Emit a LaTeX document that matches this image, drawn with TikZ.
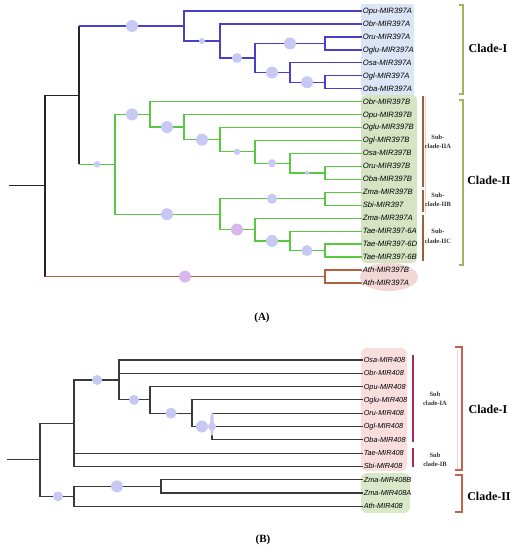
\documentclass[tikz,border=0pt]{standalone}
\usepackage{fontspec}
\setmainfont{Liberation Serif}
\newfontfamily\labfont{Liberation Sans}
\definecolor{blueline}{HTML}{4840C8}
\definecolor{greenline}{HTML}{58C840}
\definecolor{athline}{HTML}{B0603C}
\definecolor{bubcol}{HTML}{C8C8F5}
\definecolor{bubpink}{HTML}{D8B8EC}
\definecolor{bluebox}{HTML}{DBE5F5}
\definecolor{greenbox}{HTML}{D6E4C4}
\definecolor{pinkell}{HTML}{F3D6D6}
\definecolor{pinkbox}{HTML}{F9DEDE}
\definecolor{greenboxb}{HTML}{D9E8C8}
\definecolor{olive}{HTML}{9CB85A}
\definecolor{subbrown}{HTML}{9A6232}
\definecolor{bbrack}{HTML}{C4624E}
\definecolor{submag}{HTML}{A02A64}
\definecolor{treegray}{HTML}{3A3A3A}
\definecolor{faintpink}{HTML}{F6CCDC}
\begin{document}
\begin{tikzpicture}[x=1pt,y=-1pt,
  lf/.style={anchor=west,inner xsep=0.6pt,inner ysep=0pt,text height=5.6pt,text depth=0.8pt,
    font=\labfont\itshape\fontsize{7.7}{8}\selectfont},
  lfb/.style={lf,font=\labfont\itshape\fontsize{7.3}{8}\selectfont},
  blk/.style={draw=black!85,line width=1.1pt},
  bl/.style={draw=blueline,line width=1.3pt},
  gr/.style={draw=greenline,line width=1.3pt},
  ath/.style={draw=athline,line width=1.3pt},
  tg/.style={draw=treegray,line width=1.1pt},
  bub/.style={fill=bubcol},
  clade/.style={font=\fontsize{12}{14}\selectfont\bfseries},
  sublab/.style={align=center,inner sep=0pt,font=\fontsize{6.5}{9.5}\selectfont\bfseries,text=black!80},
  capt/.style={font=\fontsize{11}{13}\selectfont\bfseries}
]
\useasboundingbox (0,0) rectangle (514,550);
\fill[white] (0,0) rectangle (514,550);

% ---------- label backgrounds (A)
\fill[bluebox] (361,4) rectangle (414,95);
\fill[greenbox,rounded corners=5] (361,95) rectangle (417,263);
\fill[pinkell] (389,277) ellipse[x radius=29,y radius=14];

% ---------- label backgrounds (B)
\fill[pinkbox,rounded corners=6] (361,348) rectangle (407,471);
\fill[greenboxb,rounded corners=6] (361,473) rectangle (410,513);

% ---------- leaves (A)
\foreach \t [count=\i from 0] in {Opu-MIR397A,Obr-MIR397A,Oru-MIR397A,Oglu-MIR397A,Osa-MIR397A,Ogl-MIR397A,Oba-MIR397A,Obr-MIR397B,Opu-MIR397B,Oglu-MIR397B,Ogl-MIR397B,Osa-MIR397B,Oru-MIR397B,Oba-MIR397B,Zma-MIR397B,Sbi-MIR397,Zma-MIR397A,Tae-MIR397-6A,Tae-MIR397-6D,Tae-MIR397-6B,Ath-MIR397B,Ath-MIR397A}
  \node[lf] (la\i) at (362,{11+12.95*\i}) {\t};

% internal nodes (A)
\coordinate (A1) at (184,25.97);
\coordinate (A2) at (220,40.9);
\coordinate (A3) at (255,57.94);
\coordinate (A4) at (325,43.375);
\coordinate (A5) at (290,72.5);
\coordinate (A6) at (325,82.225);
\coordinate (B1) at (150,114.4);
\coordinate (B2) at (184,127.1);
\coordinate (B3) at (220,139.7);
\coordinate (B4) at (255,151.8);
\coordinate (B5) at (290,163.2);
\coordinate (B6) at (325,172.9);
\coordinate (ZS) at (325,198.8);
\coordinate (T2) at (325,250.6);
\coordinate (T) at (290,240.9);
\coordinate (M) at (255,229.5);
\coordinate (NL) at (220,214.2);
\coordinate (C0) at (115,164.3);
\coordinate (R) at (79,95.1);
\coordinate (Ath) at (325,276.5);
\coordinate (TopA) at (45,185.8);
\coordinate (rootA) at (9,185.8);

% black backbone
\draw[blk] (rootA) -- (TopA);
\draw[blk] (TopA) -- (TopA |- R) -- (R);
\draw[blk] (TopA) -- (TopA |- Ath);
\draw[ath] (TopA |- Ath) -- (Ath);
\draw[blk] (R) -- (R |- A1);
\draw[blk] (R) -- (R |- C0);
\draw[bl] (R |- A1) -- (A1);
\draw[gr] (R |- C0) -- (C0);

% blue clade
\foreach \p/\c in {A1/la0,A1/A2,A2/la1,A2/A3,A3/A4,A3/A5,A4/la2,A4/la3,A5/la4,A5/A6,A6/la5,A6/la6}
  \draw[bl] (\p) |- (\c);
% green clade
\foreach \p/\c in {C0/B1,C0/NL,B1/la7,B1/B2,B2/la8,B2/B3,B3/la9,B3/B4,B4/la10,B4/B5,B5/la11,B5/B6,B6/la12,B6/la13,NL/ZS,NL/M,ZS/la14,ZS/la15,M/la16,M/T,T/la17,T/T2,T2/la18,T2/la19}
  \draw[gr] (\p) |- (\c);
% Ath
\foreach \c in {la20,la21}
  \draw[ath] (Ath) |- (\c);

% bubbles (A)
\fill[bub] (132,26) circle[radius=6];
\fill[bub] (202,41) circle[radius=3];
\fill[bub] (237,58) circle[radius=5];
\fill[bub] (290,43.4) circle[radius=6];
\fill[bub] (272,72.5) circle[radius=6];
\fill[bub] (307,82.2) circle[radius=6];
\fill[bub] (97,164.3) circle[radius=3.2];
\fill[bub] (132,114.4) circle[radius=6];
\fill[bub] (167,127.1) circle[radius=6];
\fill[bub] (202,139.7) circle[radius=6];
\fill[bub] (237,151.8) circle[radius=3.2];
\fill[bub] (272,163.2) circle[radius=4];
\fill[bub] (307,172.9) circle[radius=2.2];
\fill[bub] (167,214.2) circle[radius=6];
\fill[bub] (272,198.8) circle[radius=5];
\fill[bubpink] (237,229.5) circle[radius=6];
\fill[bub] (272,240.9) circle[radius=6];
\fill[bub] (307,250.6) circle[radius=5.5];
\fill[bubpink] (185,276.5) circle[radius=6];

% brackets (A)
\draw[olive,line width=1.4pt] (459,5) -- (463,5) -- (463,94) -- (459,94);
\draw[olive,line width=1.4pt] (459,100) -- (463,100) -- (463,265) -- (459,265);
\node[clade] (cIA) at (488,48) {Clade-I};
\node[clade] (cIIA) at (489,180) {Clade-II};
\draw[faintpink,line width=0.9pt] (425.5,96) -- (425.5,214);
\draw[subbrown,line width=1.3pt] (423,96) -- (423,187);
\draw[subbrown,line width=1.3pt] (423,190) -- (423,212);
\draw[subbrown,line width=1.3pt] (423,215) -- (423,261);
\node[sublab] (sIIA) at (438,142) {Sub-\\clade-IIA};
\node[sublab] (sIIB) at (438,200) {Sub-\\clade-IIB};
\node[sublab] (sIIC) at (438,236.5) {Sub-\\clade-IIC};
\node[capt] (capA) at (262,318) {(A)};

% ---------- tree B
\foreach \t [count=\i from 0] in {Osa-MIR408,Obr-MIR408,Opu-MIR408,Oglu-MIR408,Oru-MIR408,Ogl-MIR408,Oba-MIR408,Tae-MIR408,Sbi-MIR408,Zma-MIR408B,Zma-MIR408A,Ath-MIR408}
  \node[lfb] (lb\i) at (363,{360+13.3*\i}) {\t};

\coordinate (P5) at (212,426.5);
\coordinate (P4) at (192,413.2);
\coordinate (P3) at (150,399.9);
\coordinate (P2) at (119,380);
\coordinate (P1) at (74,423.2);
\coordinate (Q2) at (161,486.35);
\coordinate (Q1) at (74,496.3);
\coordinate (PR) at (40,459.8);
\coordinate (rootB) at (7,459.8);

\draw[tg] (rootB) -- (PR);
\foreach \p/\c in {PR/P1,PR/Q1,P1/P2,P1/lb7,P1/lb8,P2/lb0,P2/lb1,P2/P3,P3/lb2,P3/P4,P4/lb3,P4/P5,P5/lb4,P5/lb5,P5/lb6,Q1/Q2,Q1/lb11,Q2/lb9,Q2/lb10}
  \draw[tg] (\p) |- (\c);

% bubbles (B)
\fill[bub] (97,380) circle[radius=5];
\fill[bub] (134,399.9) circle[radius=5];
\fill[bub] (171,413.2) circle[radius=5.5];
\fill[bub] (202,426.5) circle[radius=6];
\fill[bub] (212,424) ellipse[x radius=1.8,y radius=12];
\fill[bub] (212,426.5) circle[radius=4];
\fill[bub] (58,496.3) circle[radius=5];
\fill[bub] (117,486.35) circle[radius=6];

% brackets (B)
\draw[faintpink,line width=0.9pt] (457,350) -- (457,468);
\draw[bbrack,line width=1.4pt] (455,347) -- (462,347) -- (462,470) -- (455,470);
\draw[bbrack,line width=1.4pt] (455,475) -- (462,475) -- (462,512) -- (455,512);
\node[clade] (cIB) at (488,409) {Clade-I};
\node[clade] (cIIB) at (489,496) {Clade-II};
\draw[submag,line width=1.2pt] (413,355) -- (413,442);
\draw[submag,line width=1.2pt] (413,448) -- (413,467);
\node[sublab] (sIA) at (435,399) {Sub\\clade-IA};
\node[sublab] (sIB) at (435,460) {Sub\\clade-IB};
\node[capt] (capB) at (263,540) {(B)};
\end{tikzpicture}
\end{document}
